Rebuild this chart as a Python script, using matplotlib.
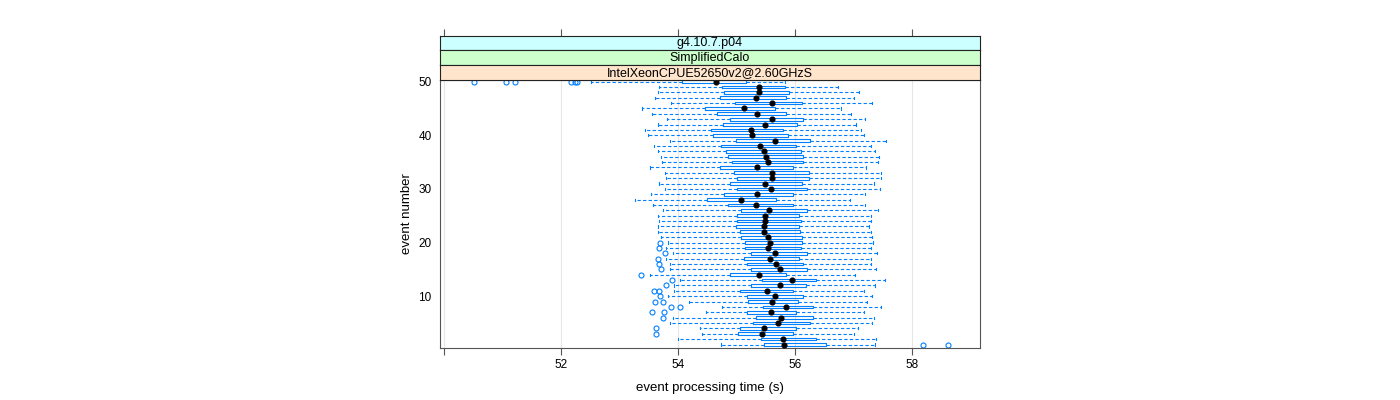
import matplotlib
matplotlib.use("Agg")
import matplotlib.pyplot as plt

plt.rcParams['font.family'] = ['Liberation Sans', 'DejaVu Sans']

# valeurs (evenements 1 a 50)
events = list(range(1, 51))
whislo = [54.74, 54.00, 54.40, 54.37, 53.86, 53.91, 54.48, 54.75, 54.19, 53.82,
          53.93, 53.93, 54.04, 53.52, 53.86, 53.86, 53.79, 53.91, 53.79, 53.82,
          53.70, 53.65, 53.66, 53.68, 53.66, 53.75, 53.57, 53.26, 53.54, 53.77,
          53.67, 53.80, 53.77, 53.52, 53.73, 53.71, 53.66, 53.59, 53.86, 53.48,
          53.44, 53.66, 53.81, 53.56, 53.39, 53.87, 53.61, 53.66, 53.68, 52.51]
q1 = [55.46, 55.41, 55.03, 55.06, 55.28, 55.33, 55.17, 55.45, 55.19, 55.18,
      55.06, 55.25, 55.44, 54.89, 55.25, 55.17, 55.12, 55.24, 55.14, 55.15,
      55.07, 55.06, 54.99, 55.01, 55.00, 55.08, 54.85, 54.50, 54.79, 55.01,
      54.88, 55.01, 54.96, 54.72, 54.92, 54.86, 54.81, 54.73, 54.99, 54.60,
      54.57, 54.76, 54.89, 54.67, 54.46, 54.98, 54.72, 54.78, 54.75, 54.07]
med = [55.81, 55.79, 55.44, 55.46, 55.70, 55.76, 55.58, 55.85, 55.60, 55.66,
       55.52, 55.74, 55.94, 55.39, 55.75, 55.68, 55.57, 55.65, 55.54, 55.57,
       55.53, 55.46, 55.46, 55.49, 55.48, 55.56, 55.33, 55.08, 55.34, 55.58,
       55.49, 55.60, 55.60, 55.35, 55.53, 55.50, 55.46, 55.40, 55.66, 55.27,
       55.24, 55.48, 55.60, 55.34, 55.12, 55.60, 55.33, 55.38, 55.38, 54.65]
q3 = [56.52, 56.35, 55.96, 56.01, 56.25, 56.30, 56.02, 56.30, 56.05, 56.14,
      55.97, 56.18, 56.36, 55.84, 56.20, 56.13, 56.07, 56.20, 56.10, 56.11,
      56.11, 56.09, 56.06, 56.10, 56.07, 56.21, 55.97, 55.68, 55.97, 56.21,
      56.11, 56.23, 56.23, 55.96, 56.14, 56.13, 56.10, 56.02, 56.26, 55.87,
      55.80, 56.04, 56.13, 55.84, 55.66, 56.11, 55.84, 55.89, 55.82, 55.16]
whishi = [57.36, 57.39, 57.00, 57.07, 57.32, 57.34, 57.17, 57.46, 57.23, 57.31,
          57.17, 57.36, 57.54, 57.03, 57.39, 57.29, 57.29, 57.40, 57.30, 57.33,
          57.32, 57.29, 57.27, 57.30, 57.30, 57.41, 57.19, 56.93, 57.20, 57.45,
          57.34, 57.46, 57.47, 57.21, 57.42, 57.43, 57.36, 57.29, 57.56, 57.18,
          57.13, 57.04, 57.20, 56.95, 56.79, 57.31, 57.01, 57.09, 56.74, 55.82]
fliers = [[58.19, 58.62], [], [53.62], [53.62], [], [53.74], [53.56, 53.76],
          [53.87, 54.03], [53.60, 53.75], [53.69],
          [53.58, 53.68], [53.80], [53.90], [53.37], [53.71], [53.67], [53.66],
          [53.77], [53.68], [53.69],
          [], [], [], [], [], [], [], [], [], [],
          [], [], [], [], [], [], [], [], [], [],
          [], [], [], [], [], [], [], [], [], [50.51, 51.06, 51.21, 52.17, 52.24, 52.27]]

strips = ["g4.10.7.p04", "SimplifiedCalo", "IntelXeonCPUE52650v2@2.60GHzS"]
strip_cols = ["#ccffff", "#ccffcc", "#ffe5cc"]
xticks = [50, 52, 54, 56, 58]
yticks = [10, 20, 30, 40, 50]

bleu = "#0080ff"
W, H = 1400, 400
fig = plt.figure(figsize=(14, 4), dpi=100)

# panneau principal
x0, x1 = 440, 980
ytop, ybot = 80, 348
ax = fig.add_axes([x0 / W, 1 - ybot / H, (x1 - x0) / W, (ybot - ytop) / H])

stats = []
for i in range(len(events)):
    stats.append(dict(med=med[i], q1=q1[i], q3=q3[i], whislo=whislo[i],
                      whishi=whishi[i], fliers=fliers[i]))

kw = dict(positions=events, widths=0.5, capwidths=0.4, patch_artist=False,
          boxprops=dict(color=bleu, lw=0.8),
          whiskerprops=dict(color=bleu, lw=0.8, linestyle=(0, (3, 2))),
          capprops=dict(color=bleu, lw=0.8),
          medianprops=dict(linestyle='none'),
          flierprops=dict(marker='o', mfc='none', mec=bleu, ms=3.6, mew=0.8))
try:
    ax.bxp(stats, orientation='horizontal', **kw)
except TypeError:
    ax.bxp(stats, vert=False, **kw)

ax.plot(med, events, 'o', color='black', ms=3.4, zorder=5)

for xv in xticks:
    ax.axvline(xv, color='#e6e6e6', lw=0.8, zorder=0)

ax.set_xlim(49.93, 59.16)
ax.set_ylim(0.35, 50.3)
ax.set_xticks(xticks)
ax.set_xticklabels([""] + [str(v) for v in xticks[1:]])
ax.set_yticks(yticks)
ax.set_yticklabels([str(v) for v in yticks])
ax.tick_params(axis='x', direction='out', length=5, width=0.8, color='#555555',
               labelsize=8.5, pad=3)
ax.tick_params(axis='y', length=0, labelsize=8.5, pad=6)
for s in ax.spines.values():
    s.set_color('#555555')
    s.set_linewidth(0.8)
ax.set_xlabel("event processing time (s)", fontsize=9.5, labelpad=8)
ax.set_ylabel("event number", fontsize=9.5, labelpad=4)

# bandeaux du haut
sh = (ytop - 35.5) / 3
for k, (txt, col) in enumerate(zip(strips, strip_cols)):
    top = 35.5 + k * sh
    sax = fig.add_axes([x0 / W, 1 - (top + sh) / H, (x1 - x0) / W, sh / H])
    sax.set_facecolor(col)
    sax.set_xlim(ax.get_xlim())
    sax.set_yticks([])
    sax.text(0.5, 0.47, txt, ha='center', va='center', fontsize=9,
             transform=sax.transAxes)
    for s in sax.spines.values():
        s.set_color('#222222')
        s.set_linewidth(0.8)
    if k == 0:
        sax.set_xticks(xticks)
        sax.tick_params(axis='x', top=True, bottom=False, labeltop=False,
                        labelbottom=False, direction='out', length=5,
                        width=0.8, color='#555555')
    else:
        sax.set_xticks([])

fig.savefig("out.png", dpi=100)
